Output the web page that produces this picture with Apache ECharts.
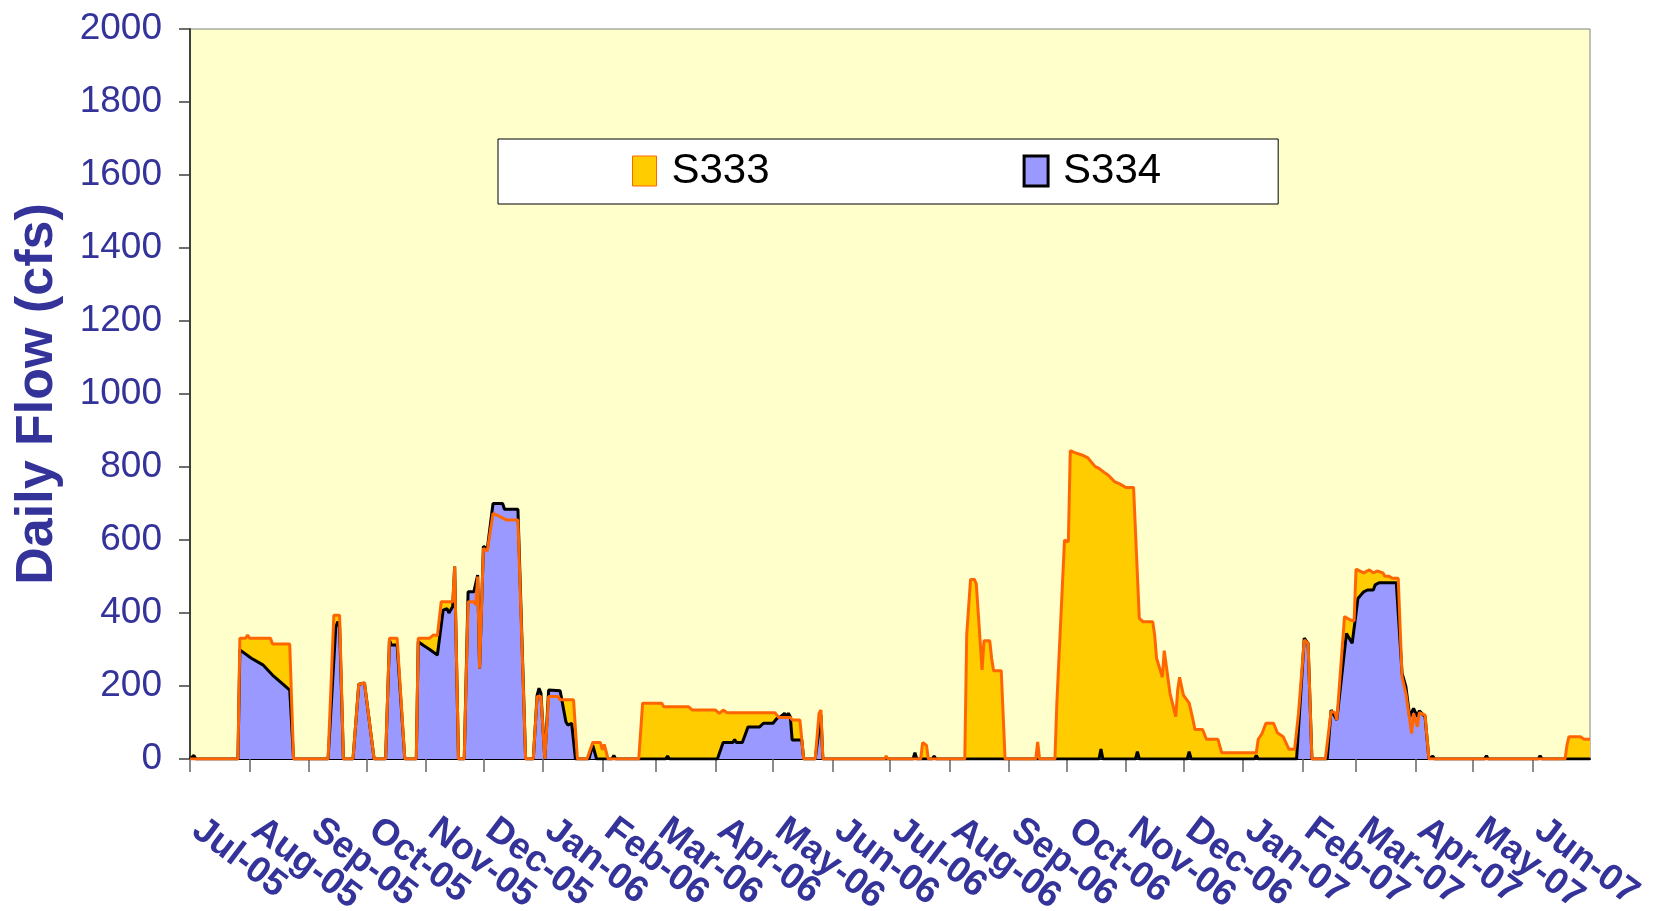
<!DOCTYPE html>
<html>
<head>
<meta charset="utf-8">
<script src="https://cdn.jsdelivr.net/npm/echarts@6.0.0/dist/echarts.min.js"></script>
<style>
html,body{margin:0;padding:0;background:#ffffff;}
#chart{width:1659px;height:911px;}
</style>
</head>
<body>
<div id="chart"></div>
<script>
// ---- Data ----
var seriesNames = ['S333', 'S334'];

var tickDates = ['2005-07-01','2005-08-01','2005-09-01','2005-10-01','2005-11-01','2005-12-01',
  '2006-01-01','2006-02-01','2006-03-01','2006-04-01','2006-05-01','2006-06-01',
  '2006-07-01','2006-08-01','2006-09-01','2006-10-01','2006-11-01','2006-12-01',
  '2007-01-01','2007-02-01','2007-03-01','2007-04-01','2007-05-01','2007-06-01'];
var tickLabels = ['Jul-05','Aug-05','Sep-05','Oct-05','Nov-05','Dec-05',
  'Jan-06','Feb-06','Mar-06','Apr-06','May-06','Jun-06',
  'Jul-06','Aug-06','Sep-06','Oct-06','Nov-06','Dec-06',
  'Jan-07','Feb-07','Mar-07','Apr-07','May-07','Jun-07'];
var axisStart = '2005-07-01';
var axisEnd = '2007-07-01';

var s333 = [
['2005-07-01',0],['2005-07-26',0],['2005-07-27',331],['2005-07-30',331],['2005-07-31',340],['2005-08-01',331],
['2005-08-12',331],['2005-08-13',315],['2005-08-22',315],['2005-08-24',0],
['2005-09-11',0],['2005-09-14',394],['2005-09-17',394],['2005-09-19',0],
['2005-09-24',0],['2005-09-27',205],['2005-09-30',208],['2005-10-01',213],['2005-10-05',0],
['2005-10-11',0],['2005-10-13',331],['2005-10-17',331],['2005-10-21',0],
['2005-10-27',0],['2005-10-28',331],['2005-11-03',331],['2005-11-05',340],['2005-11-07',338],
['2005-11-09',431],['2005-11-15',431],['2005-11-16',527],['2005-11-18',0],
['2005-11-21',0],['2005-11-23',431],['2005-11-26',431],['2005-11-27',422],['2005-11-28',500],
['2005-11-29',248],['2005-12-01',577],['2005-12-03',570],['2005-12-06',673],['2005-12-08',668],
['2005-12-13',655],['2005-12-19',655],['2005-12-23',0],
['2005-12-27',0],['2005-12-29',171],['2005-12-31',171],['2006-01-02',0],
['2006-01-03',0],['2006-01-04',171],['2006-01-09',171],['2006-01-10',162],['2006-01-17',162],['2006-01-19',0],
['2006-01-24',0],['2006-01-27',45],['2006-01-31',45],['2006-02-01',25],['2006-02-02',40],['2006-02-04',0],
['2006-02-20',0],['2006-02-22',153],['2006-03-04',153],['2006-03-05',143],['2006-03-18',143],
['2006-03-20',134],['2006-04-01',134],['2006-04-03',125],['2006-04-05',134],['2006-04-07',127],
['2006-05-02',127],['2006-05-04',114],['2006-05-10',114],['2006-05-11',107],['2006-05-15',107],['2006-05-17',0],
['2006-05-23',0],['2006-05-25',125],['2006-05-26',134],['2006-05-27',0],
['2006-06-28',0],['2006-06-29',8],['2006-06-30',0],
['2006-07-17',0],['2006-07-18',45],['2006-07-20',38],['2006-07-21',0],
['2006-08-09',0],['2006-08-10',340],['2006-08-12',492],['2006-08-14',492],['2006-08-15',480],
['2006-08-18',244],['2006-08-19',324],['2006-08-22',324],['2006-08-23',276],['2006-08-24',242],
['2006-08-28',242],['2006-08-30',0],
['2006-09-15',0],['2006-09-16',47],['2006-09-17',0],
['2006-09-25',0],['2006-09-26',153],['2006-09-30',600],['2006-10-02',595],['2006-10-03',845],
['2006-10-05',840],['2006-10-09',833],['2006-10-12',826],['2006-10-16',801],['2006-10-18',796],
['2006-10-21',784],['2006-10-23',777],['2006-10-26',760],['2006-10-29',753],['2006-11-01',744],
['2006-11-05',744],['2006-11-08',385],['2006-11-10',376],['2006-11-15',376],['2006-11-16',340],
['2006-11-17',276],['2006-11-20',224],['2006-11-21',297],['2006-11-24',180],['2006-11-27',116],
['2006-11-28',189],['2006-11-29',224],['2006-12-01',175],['2006-12-04',153],['2006-12-06',107],
['2006-12-07',81],['2006-12-11',81],['2006-12-13',54],['2006-12-19',54],['2006-12-21',17],
['2007-01-08',17],['2007-01-09',54],['2007-01-11',70],['2007-01-13',98],['2007-01-17',98],
['2007-01-19',72],['2007-01-22',61],['2007-01-25',27],['2007-01-28',27],['2007-01-30',125],
['2007-02-02',326],['2007-02-04',317],['2007-02-06',0],
['2007-02-13',0],['2007-02-16',130],['2007-02-18',127],['2007-02-19',107],['2007-02-23',390],
['2007-02-26',381],['2007-02-28',378],['2007-03-01',520],['2007-03-05',510],['2007-03-08',518],
['2007-03-10',510],['2007-03-12',515],['2007-03-15',510],['2007-03-16',501],['2007-03-18',501],
['2007-03-20',495],['2007-03-23',495],['2007-03-25',225],['2007-03-27',180],['2007-03-30',70],
['2007-03-31',125],['2007-04-02',88],['2007-04-03',127],['2007-04-06',120],['2007-04-08',0],
['2007-06-18',0],['2007-06-19',38],['2007-06-20',61],['2007-06-26',61],['2007-06-28',54],['2007-07-01',54]
];

var s334 = [
['2005-07-01',0],['2005-07-02',0],['2005-07-03',10],['2005-07-04',0],
['2005-07-26',0],['2005-07-27',299],['2005-08-02',276],['2005-08-08',258],['2005-08-13',230],
['2005-08-18',207],['2005-08-22',189],['2005-08-24',0],
['2005-09-11',0],['2005-09-15',360],['2005-09-16',376],['2005-09-17',365],['2005-09-19',0],
['2005-09-24',0],['2005-09-27',205],['2005-09-30',208],['2005-10-01',213],['2005-10-05',0],
['2005-10-11',0],['2005-10-13',325],['2005-10-14',312],['2005-10-17',312],['2005-10-21',0],
['2005-10-27',0],['2005-10-28',321],['2005-10-31',310],['2005-11-03',300],['2005-11-07',285],
['2005-11-10',408],['2005-11-12',412],['2005-11-13',400],['2005-11-15',418],['2005-11-16',527],['2005-11-18',0],
['2005-11-21',0],['2005-11-23',458],['2005-11-26',458],['2005-11-28',504],['2005-11-29',248],
['2005-12-01',583],['2005-12-03',575],['2005-12-06',700],['2005-12-11',700],['2005-12-12',684],
['2005-12-19',684],['2005-12-23',0],
['2005-12-27',0],['2005-12-29',175],['2005-12-30',194],['2005-12-31',180],['2006-01-02',0],
['2006-01-03',0],['2006-01-04',189],['2006-01-10',187],['2006-01-13',102],['2006-01-14',93],
['2006-01-16',98],['2006-01-18',0],
['2006-01-25',0],['2006-01-27',38],['2006-01-29',0],
['2006-02-06',0],['2006-02-07',10],['2006-02-08',0],
['2006-03-06',0],['2006-03-07',8],['2006-03-08',0],
['2006-04-02',0],['2006-04-05',45],['2006-04-10',45],['2006-04-11',53],['2006-04-12',45],
['2006-04-15',45],['2006-04-18',88],['2006-04-24',88],['2006-04-26',98],['2006-05-01',98],
['2006-05-03',111],['2006-05-05',116],['2006-05-07',125],['2006-05-08',116],['2006-05-09',125],
['2006-05-10',116],['2006-05-11',52],['2006-05-16',52],['2006-05-17',0],
['2006-05-23',0],['2006-05-26',120],['2006-05-27',0],
['2006-07-13',0],['2006-07-14',17],['2006-07-15',0],
['2006-07-23',0],['2006-07-24',8],['2006-07-25',0],
['2006-10-18',0],['2006-10-19',27],['2006-10-20',0],
['2006-11-06',0],['2006-11-07',20],['2006-11-08',0],
['2006-12-03',0],['2006-12-04',20],['2006-12-05',0],
['2007-01-07',0],['2007-01-08',10],['2007-01-09',0],
['2007-01-29',0],['2007-02-02',331],['2007-02-04',317],['2007-02-06',0],
['2007-02-14',0],['2007-02-16',134],['2007-02-19',107],['2007-02-24',344],['2007-02-27',317],
['2007-03-02',440],['2007-03-05',458],['2007-03-07',463],['2007-03-10',463],['2007-03-11',477],
['2007-03-13',483],['2007-03-22',483],['2007-03-25',235],['2007-03-27',198],['2007-03-29',116],
['2007-03-31',139],['2007-04-02',116],['2007-04-03',132],['2007-04-06',116],['2007-04-08',0],
['2007-04-09',0],['2007-04-10',8],['2007-04-11',0],
['2007-05-07',0],['2007-05-08',9],['2007-05-09',0],
['2007-06-04',0],['2007-06-05',9],['2007-06-06',0],
['2007-07-01',0]
];

// ---- Chart ----
function toTs(s) {
  var p = s.split('-').map(Number);
  return Date.UTC(p[0], p[1] - 1, p[2]);
}
function toPoints(arr) {
  return arr.map(function (d) { return [toTs(d[0]), d[1]]; });
}
var minTs = toTs(axisStart);
var maxTs = toTs(axisEnd);
// month ticks; the first one nudged by 1 ms so that it is not the axis-min guard value
var tickValues = tickDates.map(function (d, i) { return toTs(d) + (i === 0 ? 1 : 0); });
var labelByTs = {};
tickValues.forEach(function (t, i) { labelByTs[t] = tickLabels[i]; });
// guard values at both ends (empty labels) keep ECharts from hiding real edge labels
var tickCustom = [minTs].concat(tickValues, [maxTs]);

var FONT = '"Liberation Sans", Arial, sans-serif';
var TEXT_BLUE = '#333399';

var s333Pts = toPoints(s333);
var s334Pts = toPoints(s334);

var chart = echarts.init(document.getElementById('chart'), null, {renderer: 'canvas'});
chart.setOption({
  animation: false,
  backgroundColor: '#ffffff',
  textStyle: {fontFamily: FONT},
  grid: {
    left: 190, right: 69, top: 29, bottom: 152,
    show: true, backgroundColor: '#FFFFCC', borderColor: '#808080', borderWidth: 1,
    containLabel: false, outerBoundsMode: 'none'
  },
  legend: {
    show: true,
    selectedMode: false,
    left: 498, top: 139,
    orient: 'horizontal',
    backgroundColor: '#ffffff',
    borderColor: '#000000',
    borderWidth: 1,
    padding: [11, 117, 12, 134],
    itemGap: 253,
    itemWidth: 24,
    itemHeight: 30,
    textStyle: {fontSize: 42, color: '#000000', fontFamily: FONT, padding: [0, 0, 0, 10]},
    data: [
      {name: seriesNames[0], icon: 'rect', itemStyle: {color: '#FFCC00', borderColor: '#FF6600', borderWidth: 1}},
      {name: seriesNames[1], icon: 'rect', itemStyle: {color: '#9999FF', borderColor: '#000000', borderWidth: 3}}
    ]
  },
  xAxis: {
    type: 'value',
    min: minTs,
    max: maxTs,
    splitLine: {show: false},
    axisLine: {show: true, onZero: false, lineStyle: {color: '#000000', width: 2}},
    axisTick: {show: true, inside: false, length: 13, customValues: tickCustom, lineStyle: {color: '#666666', width: 1.5}},
    axisLabel: {
      show: true,
      customValues: tickCustom,
      showMinLabel: false,
      showMaxLabel: false,
      rotate: -37,
      margin: 62,
      padding: [0, 0, 0, 8],
      fontSize: 37,
      fontWeight: 'bold',
      color: TEXT_BLUE,
      fontFamily: FONT,
      hideOverlap: false,
      formatter: function (v) { return labelByTs[v] || ''; }
    }
  },
  yAxis: {
    type: 'value',
    min: 0, max: 2000, interval: 200,
    name: 'Daily Flow (cfs)',
    nameLocation: 'middle',
    nameRotate: 90,
    nameGap: 126,
    nameTextStyle: {fontSize: 52, fontWeight: 'bold', color: TEXT_BLUE, fontFamily: FONT},
    splitLine: {show: false},
    axisLine: {show: true, lineStyle: {color: '#404040', width: 2}},
    axisTick: {show: true, inside: false, length: 11, lineStyle: {color: '#404040', width: 1.5}},
    axisLabel: {
      fontSize: 37, color: TEXT_BLUE, margin: 28, fontFamily: FONT,
      formatter: function (v) { return String(v); }
    }
  },
  series: [
    {
      name: seriesNames[0], type: 'line', data: s333Pts, symbol: 'none', z: 2,
      color: '#FFCC00',
      lineStyle: {width: 0, opacity: 0},
      areaStyle: {color: '#FFCC00', opacity: 1},
      silent: true
    },
    {
      name: seriesNames[1], type: 'line', data: s334Pts, symbol: 'none', z: 3,
      color: '#9999FF',
      lineStyle: {width: 0, opacity: 0},
      areaStyle: {color: '#9999FF', opacity: 1},
      silent: true
    },
    {
      name: seriesNames[1] + ' outline', type: 'line', data: s334Pts, symbol: 'none', z: 4,
      lineStyle: {width: 3, color: '#000000'},
      silent: true
    },
    {
      name: seriesNames[0] + ' outline', type: 'line', data: s333Pts, symbol: 'none', z: 5,
      lineStyle: {width: 3, color: '#FF6600'},
      silent: true
    }
  ]
});
</script>
</body>
</html>
